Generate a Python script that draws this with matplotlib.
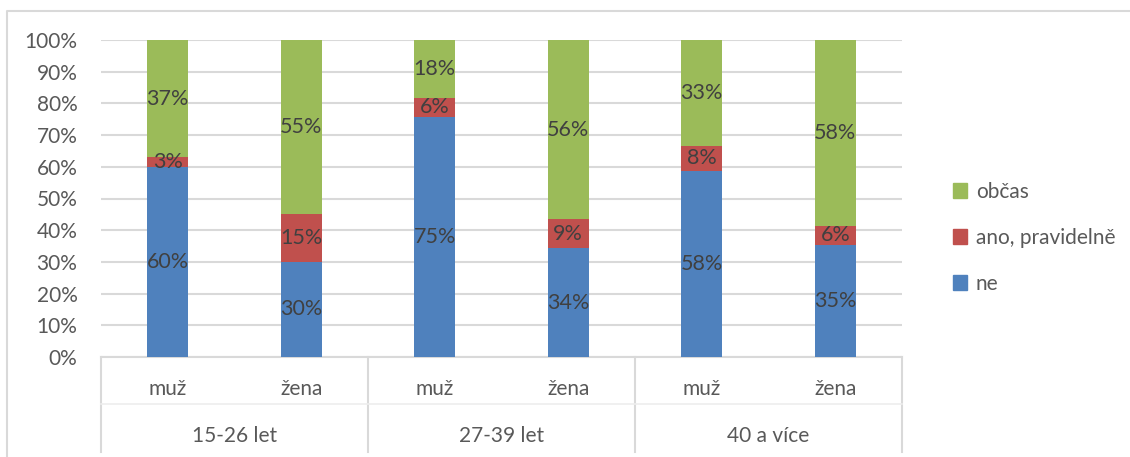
import matplotlib
matplotlib.use("Agg")
import matplotlib.pyplot as plt
import matplotlib.transforms as mtransforms
from matplotlib.lines import Line2D
from matplotlib.patches import Patch
import numpy as np

plt.rcParams['font.family'] = ['Lato', 'DejaVu Sans']

groups = ["15-26 let", "27-39 let", "40 a více"]
sexes = ["muž", "žena"]
series = ["ne", "ano, pravidelně", "občas"]
ne = [60, 30, 75, 34, 58, 35]
ano = [3, 15, 6, 9, 8, 6]
obcas = [37, 55, 18, 56, 33, 58]
colors = ["#4F81BD", "#C0504D", "#9BBB59"]

W, H = 1130, 457
fig = plt.figure(figsize=(W / 100, H / 100), dpi=100)
ax = fig.add_axes([101 / W, (H - 357) / H, (902 - 101) / W, 317 / H])

data = np.array([ne, ano, obcas], dtype=float)
share = data / data.sum(axis=0) * 100
x = np.arange(len(ne))
bottom = np.zeros(len(ne))
for vals, pct, col, name in zip(data, share, colors, series):
    ax.bar(x, pct, 0.31, bottom=bottom, color=col, label=name, zorder=3)
    for xi, b, p, v in zip(x, bottom, pct, vals):
        ax.text(xi, b + p / 2, f"{v:.0f}%", ha="center", va="center",
                fontsize=15.5, color="#404040", zorder=4)
    bottom += pct

ax.set_xlim(-0.5, len(ne) - 0.5)
ax.set_ylim(0, 100)
ax.set_yticks(np.arange(0, 101, 10))
ax.set_yticklabels([f"{t}%" for t in range(0, 101, 10)])
ax.tick_params(axis="y", length=0, labelsize=15, labelcolor="#595959", pad=17)
ax.set_xticks([])
ax.grid(axis="y", color="#D9D9D9", linewidth=1.5, zorder=0)
for s in ["top", "right", "left"]:
    ax.spines[s].set_visible(False)
ax.spines["bottom"].set_color("#D9D9D9")
ax.spines["bottom"].set_linewidth(1.5)

# two-level category axis below the bars
tr = mtransforms.blended_transform_factory(ax.transData, fig.transFigure)
py = lambda p: (H - p) / H
for b in np.arange(-0.5, len(ne), 2):
    fig.add_artist(Line2D([b, b], [py(357), py(452)], transform=tr,
                          color="#D9D9D9", linewidth=1.5))
fig.add_artist(Line2D([-0.5, len(ne) - 0.5], [py(404), py(404)], transform=tr,
                      color="#EDEDED", linewidth=1.2))
for i, g in enumerate(groups):
    for j, s in enumerate(sexes):
        fig.text(2 * i + j, py(389), s, transform=tr, ha="center", va="center",
                 fontsize=15, color="#595959")
    fig.text(2 * i + 0.5, py(436), g, transform=tr, ha="center", va="center",
             fontsize=15, color="#595959")

# chart border
fig.add_artist(Line2D([7 / W, 7 / W, 1.0], [0, py(11), py(11)],
                      transform=fig.transFigure, color="#D9D9D9", linewidth=1.5))

handles = [Patch(color=c) for c in colors][::-1]
fig.legend(handles, series[::-1], loc="center left", bbox_to_anchor=(934 / W, py(238)),
           frameon=False, fontsize=15, labelcolor="#595959", handlelength=0.7,
           handleheight=0.7, handletextpad=0.4, labelspacing=1.25)

fig.savefig("out.png", dpi=100)
